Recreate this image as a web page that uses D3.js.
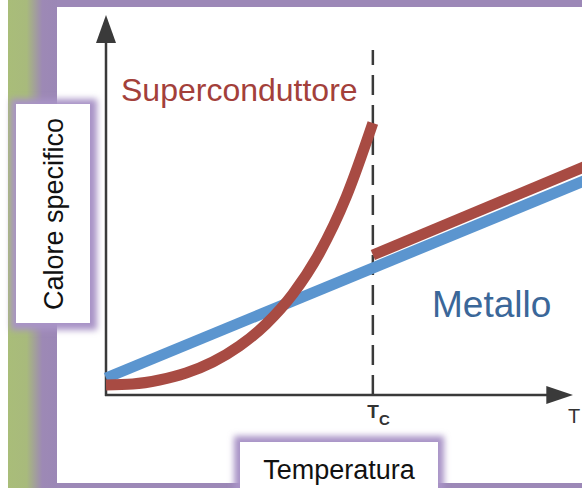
<!DOCTYPE html>
<html><head><meta charset="utf-8">
<script src="https://cdn.jsdelivr.net/npm/d3@7"></script>
<style>html,body{margin:0;padding:0;background:#fff;}svg{display:block;font-family:"Liberation Sans",Arial,sans-serif;}</style>
</head><body>
<script>
// ---- data ----
const Tc = 1;
const metalT = [0, 1.8];
const metalC = [0.17, 2.15];
const superBelowT = [0, 0.1, 0.2, 0.3, 0.4, 0.5, 0.6, 0.7, 0.8, 0.9, 1.0];
const superBelowC = [0.10, 0.11, 0.15, 0.22, 0.33, 0.49, 0.71, 1.01, 1.42, 1.98, 2.72];
const superAboveT = [1, 1.8];
const superAboveC = [1.40, 2.29];
const xTickValues = [Tc];
const xTickLabel = ["T", "C"];
const xAxisEndLabel = "T";
const yTitle = "Calore specifico";
const xTitle = "Temperatura";
const superLabel = "Superconduttore";
const metalLabel = "Metallo";

const W = 582, H = 488;
const svg = d3.select("body").append("svg").attr("width", W).attr("height", H);
const defs = svg.append("defs");

// background frame
const g = defs.append("linearGradient").attr("id", "bg").attr("x1", 0).attr("x2", 1);
g.append("stop").attr("offset", "0%").attr("stop-color", "#a9bd79");
g.append("stop").attr("offset", "38%").attr("stop-color", "#a8ba7c");
g.append("stop").attr("offset", "70%").attr("stop-color", "#9d89b5");
g.append("stop").attr("offset", "100%").attr("stop-color", "#9b87b6");
svg.append("rect").attr("x", 0).attr("y", 0).attr("width", W).attr("height", H).attr("fill", "#fff");
svg.append("rect").attr("x", 8).attr("y", 0).attr("width", 49).attr("height", H).attr("fill", "url(#bg)");
svg.append("rect").attr("x", 57).attr("y", 0).attr("width", W - 57).attr("height", 7).attr("fill", "#9c88b7");
svg.append("rect").attr("x", 57).attr("y", 483).attr("width", W - 57).attr("height", 5).attr("fill", "#9c88b7");

const blur = defs.append("filter").attr("id", "glow").attr("x", "-30%").attr("y", "-30%").attr("width", "160%").attr("height", "160%");
blur.append("feGaussianBlur").attr("stdDeviation", 3);

// scales
const x = d3.scaleLinear().domain([0, 1.75]).range([106, 573]);
const y = d3.scaleLinear().domain([0, 3.8]).range([395, 15]);

// axes
const axisColor = "#3a3a3a";
svg.append("line").attr("x1", x(0)).attr("x2", x(0)).attr("y1", y(0) + 1).attr("y2", y(3.55))
  .attr("stroke", axisColor).attr("stroke-width", 2.5);
svg.append("path").attr("d", `M${x(0)},${y(3.8)} L${x(0) - 10},${y(3.52)} L${x(0) + 10},${y(3.52)} Z`).attr("fill", axisColor);
svg.append("line").attr("x1", x(0) - 1).attr("x2", x(1.66)).attr("y1", y(0)).attr("y2", y(0))
  .attr("stroke", axisColor).attr("stroke-width", 2.5);
svg.append("path").attr("d", `M${x(1.75)},${y(0)} L${x(1.65)},${y(0) - 9} L${x(1.65)},${y(0) + 9} Z`).attr("fill", axisColor);

// Tc dashed line
svg.append("line").attr("x1", x(Tc)).attr("x2", x(Tc)).attr("y1", y(0)).attr("y2", y(3.45))
  .attr("stroke", axisColor).attr("stroke-width", 2.5).attr("stroke-dasharray", "20,10");

// tick label Tc
const xAxis = d3.axisBottom(x).tickValues(xTickValues).tickSize(0).tickFormat(() => "");
const ax = svg.append("g").attr("transform", `translate(0,${y(0)})`).call(xAxis);
ax.select(".domain").remove();
ax.selectAll(".tick").each(function () {
  const t = d3.select(this).append("text").attr("fill", "#333").attr("y", 23).attr("x", -6)
    .attr("text-anchor", "start").style("font-family", "'Liberation Sans',Arial,sans-serif");
  t.append("tspan").attr("font-size", 19).attr("font-weight", "bold").text(xTickLabel[0]);
  t.append("tspan").attr("font-size", 15).attr("font-weight", "bold").attr("dy", 7).attr("dx", 0).text(xTickLabel[1]);
});
svg.append("text").attr("x", 568).attr("y", 423).attr("font-size", 20).attr("fill", "#333").text(xAxisEndLabel);

// series
const line = d3.line().x(d => x(d[0])).y(d => y(d[1]));
const lineCurve = d3.line().x(d => x(d[0])).y(d => y(d[1])).curve(d3.curveMonotoneX);
const blue = "#5b95cf", red = "#a84b43";
svg.append("path").attr("d", line(d3.zip(metalT, metalC))).attr("fill", "none")
  .attr("stroke", blue).attr("stroke-width", 11);
svg.append("path").attr("d", lineCurve(d3.zip(superBelowT, superBelowC))).attr("fill", "none")
  .attr("stroke", red).attr("stroke-width", 11);
svg.append("path").attr("d", line(d3.zip(superAboveT, superAboveC))).attr("fill", "none")
  .attr("stroke", red).attr("stroke-width", 11);

// labels
svg.append("text").attr("x", 121).attr("y", 101).attr("font-size", 32).attr("fill", "#a3403a").text(superLabel);
svg.append("text").attr("x", 432).attr("y", 317).attr("font-size", 37).attr("fill", "#3b6799").text(metalLabel);

// y title box
svg.append("rect").attr("x", 11).attr("y", 99).attr("width", 86).attr("height", 231).attr("fill", "#a893c6").attr("filter", "url(#glow)");
svg.append("rect").attr("x", 16).attr("y", 104).attr("width", 74).attr("height", 219).attr("fill", "#fff");
svg.append("text").attr("transform", "translate(63,214) rotate(-90)").attr("text-anchor", "middle")
  .attr("font-size", 27).attr("fill", "#111").text(yTitle);

// x title box
svg.append("rect").attr("x", 234).attr("y", 436).attr("width", 210).attr("height", 60).attr("fill", "#a893c6").attr("filter", "url(#glow)");
svg.append("rect").attr("x", 240).attr("y", 442).attr("width", 198).attr("height", 46).attr("fill", "#fff");
svg.append("text").attr("x", 339).attr("y", 479).attr("text-anchor", "middle")
  .attr("font-size", 27).attr("fill", "#111").text(xTitle);
</script>
</body></html>
